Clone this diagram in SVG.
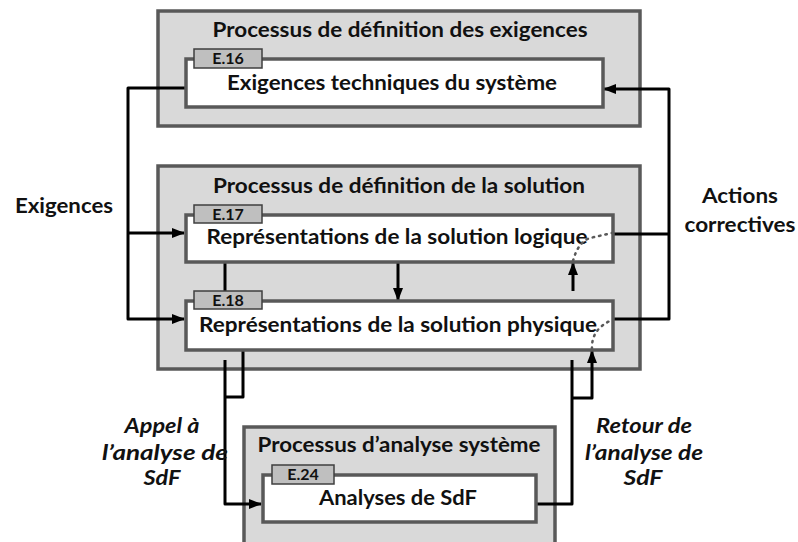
<svg xmlns="http://www.w3.org/2000/svg" width="798" height="542" viewBox="0 0 798 542">
<style>
.proc{fill:#d9d9d9;stroke:#595959;stroke-width:3.5}
.box{fill:#ffffff;stroke:#595959;stroke-width:3.5}
.tab{fill:#bfbfbf;stroke:#3f3f3f;stroke-width:1.5}
text{font-family:Lato,"Liberation Sans",sans-serif;font-weight:bold;fill:#111111}
.t{font-size:20px;text-anchor:middle}
.b{font-size:21px;text-anchor:middle}
.e{font-size:16px;text-anchor:middle}
.l{font-size:20px;text-anchor:middle}
.i{font-size:20px;font-style:italic;text-anchor:middle}
.c{fill:none;stroke:#000;stroke-width:3;stroke-linejoin:round}
.d{fill:none;stroke:#595959;stroke-width:2.5;stroke-dasharray:1.5 5;stroke-linecap:round}
</style>
<defs>
<marker id="ah" markerUnits="userSpaceOnUse" markerWidth="14" markerHeight="12" refX="12" refY="6" orient="auto">
<path d="M0,1 L13,6 L0,11 Z" fill="#000"/>
</marker>
</defs>
<g id="proc-exigences">
<rect class="proc" x="158" y="11" width="482" height="115"/>
<text class="t" x="400" y="37" textLength="375" lengthAdjust="spacingAndGlyphs">Processus de définition des exigences</text>
</g>
<g id="proc-solution">
<rect class="proc" x="158" y="166" width="482" height="203"/>
<text class="t" x="399" y="193" textLength="372" lengthAdjust="spacingAndGlyphs">Processus de définition de la solution</text>
</g>
<g id="proc-analyse">
<rect class="proc" x="244" y="427" width="311" height="130"/>
<text class="t" x="399" y="452" textLength="283" lengthAdjust="spacingAndGlyphs">Processus d’analyse système</text>
</g>
<g id="connectors">
<path class="c" d="M186,88 H128 V319 H184" marker-end="url(#ah)"/>
<path class="c" d="M128,233 H184" marker-end="url(#ah)"/>
<path class="c" d="M613,319 H669 V89 H604" marker-end="url(#ah)"/>
<path class="c" d="M613,234 H669"/>
<path class="c" d="M225,262 V291"/>
<path class="c" d="M398,262 V300" marker-end="url(#ah)"/>
<path class="c" d="M573,291 V263" marker-end="url(#ah)"/>
<path class="c" d="M243,350 V397 H225"/>
<path class="c" d="M225,360 V504 H261" marker-end="url(#ah)"/>
<path class="c" d="M536,504 H572 V360"/>
<path class="c" d="M572,398 H592 V351" marker-end="url(#ah)"/>
</g>
<g id="E16">
<rect class="box" x="186" y="59" width="417" height="48"/>
<rect class="tab" x="194" y="49" width="68" height="19"/>
<text class="e" x="228" y="64">E.16</text>
<text class="b" x="392" y="90" textLength="330" lengthAdjust="spacingAndGlyphs">Exigences techniques du système</text>
</g>
<g id="E17">
<rect class="box" x="186" y="215" width="427" height="47"/>
<rect class="tab" x="194" y="205" width="68" height="18"/>
<text class="e" x="228" y="220">E.17</text>
<text class="b" x="397" y="244" textLength="381" lengthAdjust="spacingAndGlyphs">Représentations de la solution logique</text>
</g>
<g id="E18">
<rect class="box" x="186" y="301" width="427" height="49"/>
<rect class="tab" x="194" y="291" width="68" height="18"/>
<text class="e" x="228" y="306">E.18</text>
<text class="b" x="398" y="332" textLength="398" lengthAdjust="spacingAndGlyphs">Représentations de la solution physique</text>
</g>
<g id="E24">
<rect class="box" x="263" y="475" width="273" height="47"/>
<rect class="tab" x="272" y="465" width="62" height="19"/>
<text class="e" x="303" y="480">E.24</text>
<text class="b" x="398" y="505" textLength="158" lengthAdjust="spacingAndGlyphs">Analyses de SdF</text>
</g>
<g id="dotted">
<path class="d" d="M573,261 Q578,242 590,238 L612,233"/>
<path class="d" d="M592,349 Q591,329 612,320"/>
</g>
<g id="labels">
<text class="l" x="64" y="213" textLength="98" lengthAdjust="spacingAndGlyphs">Exigences</text>
<text class="l" x="740" y="203" textLength="76" lengthAdjust="spacingAndGlyphs">Actions</text>
<text class="l" x="740" y="232" textLength="111" lengthAdjust="spacingAndGlyphs">correctives</text>
<text class="i" x="162" y="433" textLength="75" lengthAdjust="spacingAndGlyphs">Appel à</text>
<text class="i" x="165" y="460" textLength="126" lengthAdjust="spacingAndGlyphs">l’analyse de</text>
<text class="i" x="162" y="485" textLength="37" lengthAdjust="spacingAndGlyphs">SdF</text>
<text class="i" x="644" y="433" textLength="96" lengthAdjust="spacingAndGlyphs">Retour de</text>
<text class="i" x="644" y="460" textLength="118" lengthAdjust="spacingAndGlyphs">l’analyse de</text>
<text class="i" x="643" y="485" textLength="39" lengthAdjust="spacingAndGlyphs">SdF</text>
</g>
</svg>
